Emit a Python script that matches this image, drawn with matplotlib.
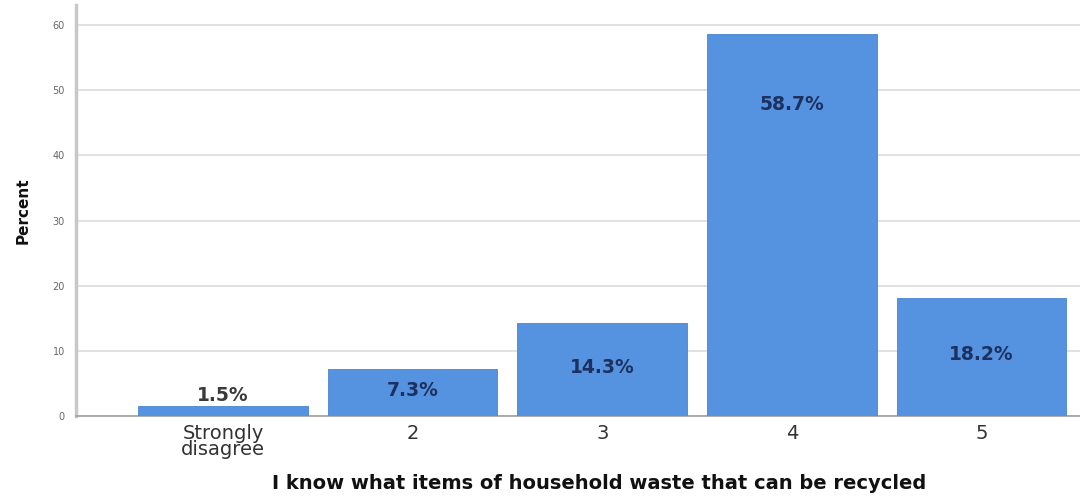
import numpy as np
import matplotlib
matplotlib.use("Agg")
import matplotlib.pyplot as plt

categories = ["Strongly\ndisagree", "2", "3", "4", "5"]
percents = [1.5, 7.3, 14.3, 58.7, 18.2]
labels = ["1.5%", "7.3%", "14.3%", "58.7%", "18.2%"]
y_ticks = [0, 10, 20, 30, 40, 50, 60]

bar_color = "#5592e0"

fig = plt.figure(figsize=(10.8, 4.96), dpi=100)
ax = fig.add_axes([0.0704, 0.161, 0.9296, 0.829])

x = np.arange(len(categories))
ax.bar(x, percents, width=0.895, color=bar_color, edgecolor="#4a84d0", linewidth=0.6, zorder=3)

# value labels: above tiny bars, middle for short bars, near top for tall bars
for xi, v, lab in zip(x, percents, labels):
    if v < 3:
        ax.text(xi, v + 1.6, lab, ha="center", va="center", fontsize=13.5,
                fontweight="semibold", color="#3a3a3a", zorder=4)
    elif v < 30:
        ax.text(xi, v / 2 + 0.3, lab, ha="center", va="center", fontsize=13.5,
                fontweight="semibold", color="#1d3160", zorder=4)
    else:
        ax.text(xi, v - 10.8, lab, ha="center", va="center", fontsize=13.5,
                fontweight="semibold", color="#1d3160", zorder=4)

ax.set_xlim(-0.775, 4.52)
ax.set_ylim(0, 63.1)
ax.set_yticks(y_ticks)
ax.set_xticks(x)
ax.set_xticklabels(categories, fontsize=14, color="#333333", linespacing=0.75)
ax.tick_params(axis="y", labelsize=7, colors="#666666", length=0, pad=8)
ax.tick_params(axis="x", length=0, pad=6)

ax.grid(axis="y", color="#dcdcdc", linewidth=1.2, zorder=0)
for s in ["top", "right"]:
    ax.spines[s].set_visible(False)
ax.spines["left"].set_color("#c8c8c8")
ax.spines["left"].set_linewidth(2.5)
ax.spines["bottom"].set_color("#a0a0a0")
ax.spines["bottom"].set_linewidth(1.2)

ax.set_ylabel("Percent", fontsize=11, fontweight="bold", color="#111111", labelpad=16)
ax.set_xlabel("I know what items of household waste that can be recycled",
              fontsize=14, fontweight="bold", color="#111111", labelpad=12)
ax.xaxis.set_label_coords(0.521, -0.14)

fig.savefig("out.png", dpi=100)
